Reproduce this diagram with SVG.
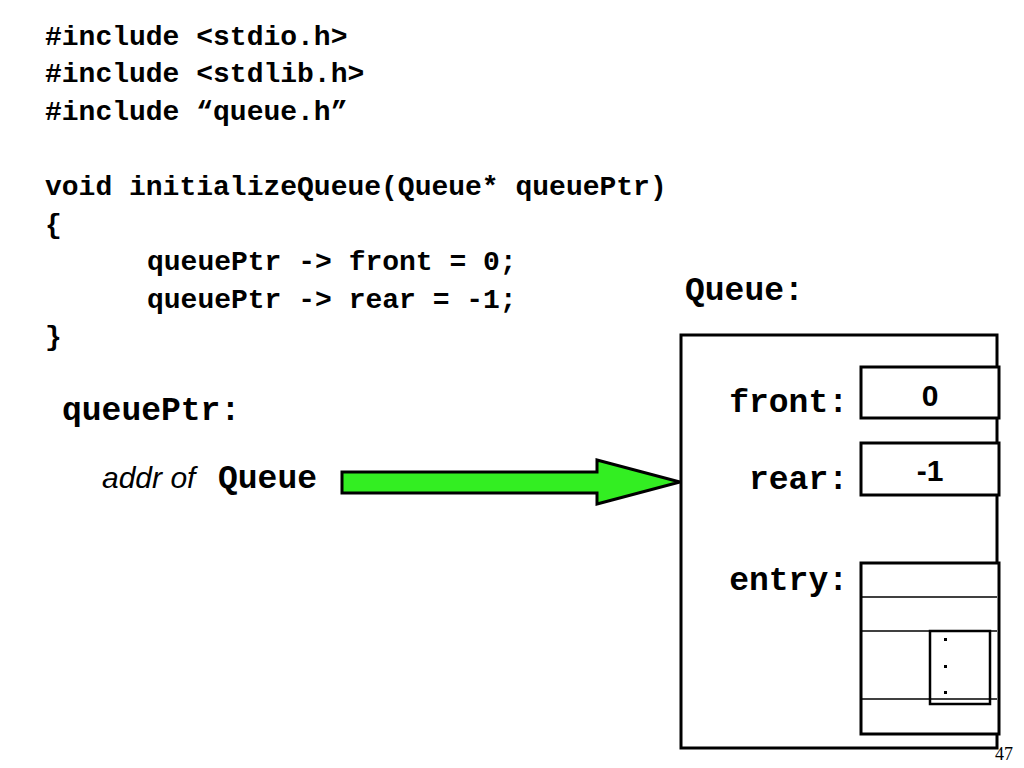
<svg xmlns="http://www.w3.org/2000/svg" width="1024" height="768" viewBox="0 0 1024 768">
<style>
.code{font-family:"Liberation Mono",monospace;font-weight:bold;font-size:28px;fill:#000}
.lbl{font-family:"Liberation Mono",monospace;font-weight:bold;font-size:33px;fill:#000}
.val{font-family:"Liberation Sans",Arial,sans-serif;font-weight:bold;font-size:30px;fill:#000}
.box{fill:#fff;stroke:#000;stroke-width:3}
.thin{stroke:#000;stroke-width:1.5}
</style>
<rect width="1024" height="768" fill="#fff"/>
<g id="code">
<text class="code" x="45" y="45">#include &lt;stdio.h&gt;</text>
<text class="code" x="45" y="82">#include &lt;stdlib.h&gt;</text>
<text class="code" x="45" y="120">#include “queue.h”</text>
<text class="code" x="45" y="195">void initializeQueue(Queue* queuePtr)</text>
<text class="code" x="45" y="233">{</text>
<text class="code" x="147" y="270">queuePtr -&gt; front = 0;</text>
<text class="code" x="147" y="308">queuePtr -&gt; rear = -1;</text>
<text class="code" x="45" y="345">}</text>
</g>
<g id="queuePtr">
<text class="lbl" x="62" y="420">queuePtr:</text>
<text x="102" y="488" font-family="Liberation Sans,Arial,sans-serif" font-style="italic" font-size="30">addr of</text>
<text class="lbl" x="218" y="488">Queue</text>
</g>
<g id="connectors">
<polygon points="342,472 597,472 597,460 680,482 597,504 597,493 342,493" fill="#33ee22" stroke="#000" stroke-width="3"/>
</g>
<g id="queue">
<text class="lbl" x="685" y="300">Queue:</text>
<rect class="box" x="681" y="335" width="316" height="413"/>
<text class="lbl" x="848" y="412" text-anchor="end">front:</text>
<text class="lbl" x="848" y="489" text-anchor="end">rear:</text>
<text class="lbl" x="848" y="590" text-anchor="end">entry:</text>
<rect class="box" x="861" y="367" width="138" height="51"/>
<text class="val" x="930" y="406" text-anchor="middle">0</text>
<rect class="box" x="861" y="443" width="138" height="52"/>
<text class="val" x="930" y="481" text-anchor="middle">-1</text>
<rect class="box" x="861" y="563" width="138" height="171"/>
<line class="thin" x1="861" y1="597" x2="997" y2="597"/>
<line class="thin" x1="861" y1="631" x2="997" y2="631"/>
<line class="thin" x1="861" y1="699" x2="997" y2="699"/>
<rect x="930" y="631" width="60" height="73" fill="none" stroke="#000" stroke-width="2.5"/>
<rect x="944" y="638" width="3" height="3" fill="#000"/>
<rect x="944" y="665" width="3" height="3" fill="#000"/>
<rect x="944" y="691" width="3" height="3" fill="#000"/>
</g>
<text x="1013" y="760" font-family="Liberation Serif,serif" font-size="18" text-anchor="end">47</text>
</svg>
